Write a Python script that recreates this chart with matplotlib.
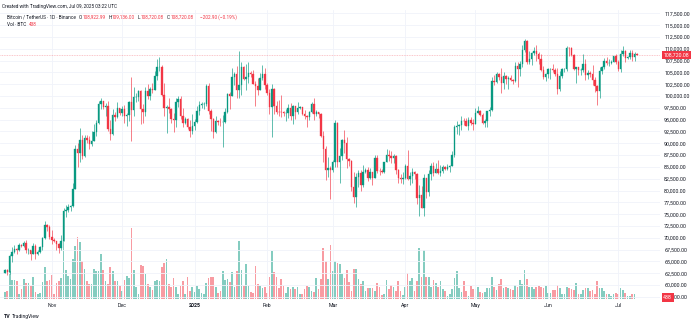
import matplotlib
matplotlib.use("Agg")
import matplotlib.pyplot as plt
import matplotlib.transforms as mtransforms
import numpy as np
import pandas as pd

plt.rcParams['font.family'] = ['Roboto', 'DejaVu Sans']

# ---------------- data (prices in thousands of USDT, volume in thousands of BTC) -------------
start_date = "2024-10-12"

close_k = [
    # Oct 12-31
    63.21, 62.85, 66.05, 67.04, 67.61, 67.42, 68.43, 68.36, 69.00, 67.37, 67.38, 66.65, 68.17, 66.63, 67.01, 67.98, 69.91, 72.72, 72.34, 70.22,
    # Nov
    69.50, 69.37, 68.78, 67.81, 69.36, 75.64, 75.90, 76.55, 76.68, 80.37, 88.70, 87.96, 90.61, 87.25, 91.07, 90.59, 89.85, 90.46, 92.31, 94.29,
    98.35, 98.89, 97.67, 97.90, 93.01, 91.97, 95.95, 95.64, 97.46, 96.41,
    # Dec
    97.19, 95.84, 96.00, 98.77, 96.96, 99.74, 99.83, 101.11, 97.34, 96.59, 101.12, 100.04, 101.46, 101.37, 104.30, 106.06, 106.13, 100.20, 97.46, 97.76,
    97.22, 95.10, 94.88, 98.67, 99.43, 95.79, 94.27, 95.16, 93.53, 92.64, 93.58,
    # Jan
    94.59, 96.88, 98.11, 98.24, 98.31, 102.08, 96.92, 95.04, 92.48, 94.70, 94.57, 94.52, 94.52, 96.53, 100.50, 99.99, 104.08, 104.56, 101.34, 102.26,
    106.14, 103.65, 103.96, 104.82, 104.71, 102.62, 102.08, 101.33, 103.73, 104.73, 102.43,
    # Feb
    100.64, 97.70, 101.41, 97.87, 96.62, 96.59, 96.53, 96.48, 96.50, 97.43, 95.78, 97.87, 96.62, 97.51, 97.57, 96.12, 95.77, 95.54, 96.64, 98.31,
    96.13, 96.58, 96.27, 91.55, 88.74, 84.35, 84.70, 84.37,
    # Mar
    86.03, 94.27, 86.12, 87.22, 90.62, 89.96, 86.74, 86.15, 80.73, 78.60, 82.86, 83.72, 81.07, 83.98, 84.34, 82.58, 84.01, 82.72, 86.85, 84.17,
    84.04, 83.83, 86.05, 87.50, 87.39, 86.90, 87.23, 84.42, 82.65, 82.39, 82.55,
    # Apr
    85.16, 82.52, 83.10, 83.84, 83.50, 78.37, 79.14, 76.27, 82.62, 79.61, 83.40, 85.28, 83.76, 84.59, 83.64, 84.03, 84.95, 84.47, 85.06, 85.17,
    87.52, 93.44, 93.70, 93.94, 94.72, 94.65, 93.75, 94.98, 94.28, 94.17,
    # May
    96.49, 96.91, 95.89, 94.32, 94.75, 96.83, 97.03, 103.24, 102.97, 104.70, 104.11, 102.81, 104.17, 103.54, 103.74, 103.48, 103.13, 106.45, 105.61, 106.78,
    109.64, 111.70, 107.29, 107.79, 109.03, 109.44, 108.94, 107.78, 105.60, 103.99, 104.59,
    # Jun
    105.64, 105.79, 105.43, 104.70, 101.51, 104.29, 105.62, 105.73, 110.26, 110.22, 108.65, 105.67, 106.07, 105.41, 105.59, 106.79, 104.55, 104.88, 104.64, 103.30,
    102.12, 100.96, 105.33, 106.08, 107.32, 106.95, 107.05, 107.30, 108.36, 107.14,
    # Jul 1-9
    105.68, 108.85, 109.58, 107.98, 108.22, 109.20, 108.26, 108.92299, 108.72008,
]

open_k = [
    62.50, 63.21, 62.85, 66.05, 67.04, 67.61, 67.42, 68.43, 68.36, 69.00, 67.37, 67.38, 66.65, 68.17, 66.63, 67.01, 67.98, 69.91, 72.72, 72.34,
    70.22, 69.50, 69.37, 68.78, 67.81, 69.36, 75.64, 75.90, 76.55, 76.68, 80.37, 88.70, 87.96, 90.61, 87.25, 91.07, 90.59, 89.85, 90.46, 92.31,
    94.29, 98.35, 98.89, 97.67, 97.90, 93.01, 91.97, 95.95, 95.64, 97.46,
    96.41, 97.19, 95.84, 96.00, 98.77, 96.96, 99.74, 99.83, 101.11, 97.34, 96.59, 101.12, 100.04, 101.46, 101.37, 104.30, 106.06, 106.13, 100.20, 97.46,
    97.76, 97.22, 95.10, 94.88, 98.67, 99.43, 95.79, 94.27, 95.16, 93.53, 92.64,
    93.58, 94.59, 96.88, 98.11, 98.24, 98.31, 102.08, 96.92, 95.04, 92.48, 94.70, 94.57, 94.52, 94.52, 96.53, 100.50, 99.99, 104.08, 104.56, 101.34,
    102.26, 106.14, 103.65, 103.96, 104.82, 104.71, 102.62, 102.08, 101.33, 103.73, 104.73,
    102.43, 100.64, 97.70, 101.41, 97.87, 96.62, 96.59, 96.53, 96.48, 96.50, 97.43, 95.78, 97.87, 96.62, 97.51, 97.57, 96.12, 95.77, 95.54, 96.64,
    98.31, 96.13, 96.58, 96.27, 91.55, 88.74, 84.35, 84.70,
    84.37, 86.03, 94.27, 86.12, 87.22, 90.62, 89.96, 86.74, 86.15, 80.73, 78.60, 82.86, 83.72, 81.07, 83.98, 84.34, 82.58, 84.01, 82.72, 86.85,
    84.17, 84.04, 83.83, 86.05, 87.50, 87.39, 86.90, 87.23, 84.42, 82.65, 82.39,
    82.55, 85.16, 82.52, 83.10, 83.84, 83.50, 78.37, 79.14, 76.27, 82.62, 79.61, 83.40, 85.28, 83.76, 84.59, 83.64, 84.03, 84.95, 84.47, 85.06,
    85.17, 87.52, 93.44, 93.70, 93.94, 94.72, 94.65, 93.75, 94.98, 94.28,
    94.17, 96.49, 96.91, 95.89, 94.32, 94.75, 96.83, 97.03, 103.24, 102.97, 104.70, 104.11, 102.81, 104.17, 103.54, 103.74, 103.48, 103.13, 106.45, 105.61,
    106.78, 109.64, 111.70, 107.29, 107.79, 109.03, 109.44, 108.94, 107.78, 105.60, 103.99,
    104.59, 105.64, 105.79, 105.43, 104.70, 101.51, 104.29, 105.62, 105.73, 110.26, 110.22, 108.65, 105.67, 106.07, 105.41, 105.59, 106.79, 104.55, 104.88, 104.64,
    103.30, 102.12, 100.96, 105.33, 106.08, 107.32, 106.95, 107.05, 107.30, 108.36,
    107.14, 105.68, 108.85, 109.58, 107.98, 108.22, 109.20, 108.26, 108.92299,
]

high_k = [
    63.48, 63.29, 66.48, 67.95, 68.42, 67.94, 68.97, 68.69, 69.40, 69.52, 67.84, 67.47, 68.85, 68.77, 67.45, 68.33, 70.27, 73.62, 72.96, 72.70,
    71.63, 70.00, 69.40, 69.00, 70.58, 76.40, 76.85, 77.20, 76.94, 81.50, 89.53, 89.96, 93.27, 91.77, 91.85, 91.78, 91.45, 92.59, 94.00, 94.90,
    98.97, 99.59, 98.99, 98.55, 98.87, 94.97, 97.21, 96.65, 98.69, 97.50,
    97.84, 98.15, 96.30, 99.00, 104.09, 101.90, 100.55, 101.35, 101.21, 98.27, 101.90, 102.54, 101.90, 102.65, 105.25, 107.79, 108.35, 106.52, 102.80, 98.14,
    99.54, 97.40, 96.42, 99.49, 99.96, 99.96, 97.54, 95.53, 95.25, 94.90, 96.16,
    95.15, 97.84, 98.98, 98.73, 98.81, 102.48, 102.72, 97.26, 95.33, 95.84, 95.00, 95.40, 95.90, 97.37, 100.68, 100.87, 105.87, 104.99, 106.32, 109.59,
    107.24, 106.39, 106.85, 107.12, 105.29, 105.49, 103.22, 103.78, 104.78, 106.46, 106.01,
    102.78, 101.46, 102.50, 101.74, 99.00, 99.18, 100.14, 96.88, 97.32, 98.35, 98.56, 98.12, 97.97, 98.83, 97.97, 97.73, 97.05, 96.00, 96.90, 98.76,
    99.50, 96.94, 96.67, 96.50, 92.53, 89.41, 87.04, 85.12,
    86.56, 95.00, 94.42, 88.91, 90.99, 92.81, 91.28, 86.85, 86.47, 83.96, 83.62, 84.36, 84.30, 85.31, 84.67, 85.05, 84.76, 84.02, 87.45, 87.45,
    84.78, 84.52, 86.13, 88.77, 88.54, 88.29, 87.79, 87.52, 84.57, 83.51, 83.94,
    85.59, 88.50, 83.93, 84.72, 84.23, 83.75, 81.24, 80.87, 83.59, 82.70, 84.25, 85.91, 86.10, 85.79, 86.50, 85.50, 85.47, 85.13, 85.60, 85.32,
    88.46, 93.82, 94.70, 94.00, 95.76, 95.30, 95.35, 95.63, 95.46, 95.18,
    97.44, 97.90, 96.94, 96.32, 95.20, 96.89, 97.73, 103.97, 104.36, 104.98, 104.94, 105.82, 104.99, 104.35, 104.17, 104.55, 103.70, 107.11, 107.11, 107.31,
    110.80, 111.98, 111.80, 109.45, 109.32, 110.42, 110.72, 109.31, 108.91, 106.31, 104.88,
    105.87, 105.98, 106.81, 105.99, 105.92, 105.33, 105.90, 106.00, 110.53, 110.40, 110.32, 108.97, 106.22, 106.20, 105.95, 108.95, 107.77, 105.55, 105.27, 106.52,
    104.00, 102.29, 106.13, 106.29, 108.14, 108.27, 107.74, 107.57, 108.50, 108.79,
    107.54, 109.79, 110.53, 109.77, 108.46, 109.74, 109.73, 109.22, 109.136,
]

low_k = [
    62.45, 62.05, 62.42, 64.80, 66.75, 66.67, 67.17, 68.02, 68.10, 66.75, 66.57, 65.26, 66.55, 65.52, 66.44, 66.80, 67.47, 69.73, 71.44, 69.69,
    68.78, 69.02, 67.48, 66.84, 67.46, 69.30, 74.42, 75.56, 75.70, 76.49, 80.22, 85.07, 86.13, 86.67, 87.11, 90.06, 88.72, 89.38, 90.38, 91.50,
    94.10, 97.15, 97.23, 95.73, 92.60, 90.79, 91.80, 94.68, 95.38, 96.00,
    95.69, 94.20, 93.58, 94.66, 90.50, 95.70, 98.80, 98.92, 94.15, 94.26, 95.68, 99.31, 99.21, 100.63, 101.23, 103.33, 105.32, 100.00, 95.67, 92.23,
    96.40, 94.20, 92.40, 93.41, 97.58, 95.14, 93.40, 94.11, 93.05, 91.32, 92.00,
    92.74, 94.39, 96.00, 97.50, 97.25, 97.91, 96.13, 92.50, 91.20, 92.20, 93.83, 93.69, 89.26, 94.31, 96.50, 97.25, 99.95, 102.28, 99.52, 99.55,
    100.12, 103.33, 101.26, 102.75, 104.11, 102.50, 97.78, 100.27, 101.28, 103.30, 101.56,
    100.28, 96.15, 91.23, 96.15, 96.25, 95.68, 95.65, 95.69, 94.75, 95.26, 94.85, 94.09, 95.21, 96.25, 97.23, 96.05, 95.21, 93.39, 95.01, 96.41,
    94.87, 95.77, 95.25, 91.35, 86.05, 82.26, 82.77, 78.26,
    83.82, 85.04, 85.08, 81.53, 86.38, 87.85, 84.67, 85.25, 80.00, 77.46, 76.61, 80.67, 79.94, 80.82, 83.63, 82.02, 82.46, 81.13, 82.67, 83.65,
    83.18, 83.63, 83.80, 85.94, 86.31, 85.86, 85.80, 83.59, 81.64, 81.57, 81.28,
    82.43, 82.32, 81.19, 81.66, 82.37, 77.15, 74.51, 76.24, 74.62, 78.46, 78.94, 82.27, 83.03, 83.68, 83.60, 83.11, 83.76, 84.30, 84.35, 83.95,
    85.14, 87.08, 91.94, 91.66, 92.86, 93.88, 93.62, 92.80, 93.97, 92.91,
    94.13, 96.35, 95.76, 94.14, 93.51, 93.38, 95.87, 96.91, 102.29, 102.82, 103.35, 100.72, 101.43, 102.61, 101.38, 103.11, 102.62, 102.98, 102.00, 104.20,
    106.11, 109.29, 106.80, 106.87, 106.60, 108.67, 107.48, 106.83, 105.32, 103.63, 103.08,
    103.81, 103.70, 105.02, 104.17, 100.37, 101.12, 103.90, 105.05, 105.32, 108.36, 108.43, 105.40, 102.66, 104.49, 104.51, 104.98, 103.37, 103.50, 103.93, 102.35,
    100.84, 98.20, 99.60, 104.62, 105.78, 106.56, 106.36, 106.81, 107.20, 106.73,
    105.27, 105.16, 108.54, 107.25, 107.76, 107.80, 107.47, 107.46, 108.72008,
]

volume_kbtc = [
    7, 8, 28, 19, 19, 18, 5, 10, 20, 16, 16, 13, 22, 7, 5, 6, 17, 32, 18, 19,
    24, 5, 16, 18, 21, 58, 29, 23, 20, 40, 53, 62, 57, 38, 30, 18, 15, 15, 30, 28, 28, 45, 29, 18, 15, 32, 28, 18, 18, 13,
    8, 19, 23, 21, 71, 29, 12, 5, 34, 33, 25, 15, 12, 9, 18, 19, 18, 32, 36, 40, 15, 12, 21, 12, 5, 13, 18, 5, 22, 8, 12,
    7, 13, 10, 6, 5, 16, 21, 22, 22, 12, 6, 8, 28, 19, 20, 17, 27, 12, 28, 58, 29, 13, 35, 13, 7, 6, 33, 15, 13, 11, 12,
    6, 22, 48, 27, 22, 11, 20, 13, 6, 12, 10, 12, 10, 12, 5, 5, 10, 13, 12, 8, 7, 21, 10, 20, 51, 38, 20, 54,
    28, 38, 36, 35, 25, 21, 29, 17, 8, 30, 30, 20, 15, 18, 8, 11, 11, 11, 8, 16, 12, 4, 5, 19, 10, 14, 12, 8, 18, 8, 4,
    12, 26, 18, 21, 8, 18, 51, 22, 49, 22, 22, 12, 19, 16, 12, 18, 10, 8, 3, 5, 10, 21, 28, 11, 7, 18, 8, 3, 13, 10,
    10, 12, 7, 6, 7, 11, 11, 22, 12, 9, 15, 20, 11, 12, 11, 10, 9, 14, 12, 19, 15, 29, 20, 12, 12, 10, 12, 13, 12, 11, 13,
    6, 6, 9, 9, 14, 11, 5, 5, 12, 11, 10, 9, 16, 5, 5, 9, 11, 11, 8, 9, 5, 18, 11, 11, 8, 5, 5, 3, 5, 6,
    5, 11, 9, 6, 3, 3, 5, 5, 0.438,
]

price_ticks_k = [57.5, 60.0, 62.5, 65.0, 67.5, 70.0, 72.5, 75.0, 77.5, 80.0, 82.5, 85.0, 87.5,
                 90.0, 92.5, 95.0, 97.5, 100.0, 102.5, 105.0, 107.5, 110.0, 112.5, 115.0, 117.5]
month_dates = ["2024-11-01", "2024-12-01", "2025-01-01", "2025-02-01", "2025-03-01",
               "2025-04-01", "2025-05-01", "2025-06-01", "2025-07-01"]
month_labels = ["Nov", "Dec", "2025", "Feb", "Mar", "Apr", "May", "Jun", "Jul"]

last_price_label = "108,720.08"
last_volume_label = "438"

# ---------------- styling ----------------
UP = "#089981"
DOWN = "#F23645"
UP_VOL = "#84CCC0"
DOWN_VOL = "#F89BA2"
TXT = "#131722"
GRID = "#F0F3FA"
FS = 3.8
FSH = 3.45

W, H = 700, 324
dates = pd.date_range(start_date, periods=len(close_k), freq="D")
idx = np.arange(len(dates))
o = np.array(open_k); h = np.array(high_k); l = np.array(low_k); c = np.array(close_k)
vol = np.array(volume_kbtc)
up = c >= o

fig = plt.figure(figsize=(W / 100, H / 100), dpi=100)
pos = [0, 25 / H, 660 / W, 289 / H]
vax = fig.add_axes(pos, zorder=0)
ax = fig.add_axes(pos, zorder=1)
ax.patch.set_visible(False)

px_per_day = 2.3407
x0 = -5 / px_per_day
x1 = (660 - 5) / px_per_day
for a in (ax, vax):
    a.set_xlim(x0, x1)
    for s in a.spines.values():
        s.set_visible(False)

# price scale: 117,500 at y=13.3px, 211.6 USDT per pixel
ax.set_ylim(117.5 - (299 - 13.3) * 0.2116, 117.5 + 3.3 * 0.2116)
vax.set_ylim(0, 289)

# grid / ticks
ax.set_yticks(price_ticks_k)
ax.set_yticklabels([f"{v * 1000:,.2f}" for v in price_ticks_k])
month_pos = [(pd.Timestamp(d) - dates[0]).days for d in month_dates]
ax.set_xticks(month_pos)
ax.set_xticklabels(month_labels)
ax.get_xticklabels()[2].set_fontweight("bold")
ax.grid(True, color=GRID, lw=0.6, zorder=0)
ax.set_axisbelow(True)
ax.yaxis.tick_right()
ax.tick_params(axis="y", length=0, pad=3, labelsize=FS, colors=TXT)
ax.tick_params(axis="x", length=0, pad=3.2, labelsize=FS, colors=TXT)
vax.set_xticks([]); vax.set_yticks([])

# volume
vax.bar(idx, vol, width=0.72, color=np.where(up, UP_VOL, DOWN_VOL), linewidth=0)

# candles
cols = np.where(up, UP, DOWN)
ax.vlines(idx, l, h, colors=cols, lw=0.45, zorder=2)
ax.bar(idx, np.abs(c - o), bottom=np.minimum(o, c), width=0.62, color=cols,
       edgecolor=cols, linewidth=0.25, zorder=3)

# last price line and labels
last = close_k[-1]
ax.axhline(last, color=DOWN, lw=0.5, ls=(0, (1.2, 1.2)), alpha=0.45, zorder=1)
tr = mtransforms.blended_transform_factory(ax.transAxes, ax.transData)
ax.text(1.005, last, last_price_label, transform=tr, ha="left", va="center", color="white",
        fontsize=FS, zorder=10, bbox=dict(boxstyle="square,pad=0.3", fc=DOWN, ec="none"))
trv = mtransforms.blended_transform_factory(ax.transAxes, vax.transData)
ax.text(1.005, 1.5, last_volume_label, transform=trv, ha="left", va="center", color="white",
        fontsize=FS, zorder=10, bbox=dict(boxstyle="square,pad=0.3", fc=DOWN, ec="none"))

# header texts
def ftext(xp, yp, s, color=TXT, size=FSH, **kw):
    return fig.text(xp / W, 1 - yp / H, s, color=color, fontsize=size, ha="left", va="center", **kw)


def chain(xp, yp, pieces):
    t = ftext(xp, yp, pieces[0][0], pieces[0][1])
    for s, col, gap in pieces[1:]:
        t = fig.text(0, 0, s, color=col, fontsize=FSH, ha="left", va="bottom",
                     transform=mtransforms.offset_copy(
                         mtransforms.BboxTransformTo(t.get_window_extent(fig.canvas.get_renderer())),
                         fig=fig, x=gap, y=0, units="points"))
        t.set_position((1, 0))
    return t


ftext(2, 6.8, "Created with TradingView.com, Jul 09, 2025 03:22 UTC")
chain(7, 17.3, [("Bitcoin / TetherUS · 1D · Binance", TXT, 0),
                ("O", TXT, 2.0), ("108,922.99", DOWN, 0.3),
                ("H", TXT, 2.0), ("109,136.00", DOWN, 0.3),
                ("L", TXT, 2.0), ("108,720.08", DOWN, 0.3),
                ("C", TXT, 2.0), ("108,720.08", DOWN, 0.3),
                ("−202.90 (−0.19%)", DOWN, 4.5)])
chain(7, 24.6, [("Vol · BTC", TXT, 0), ("438", DOWN, 1.8)])
ftext(4, 316.5, "TV", fontweight="bold", size=3.8)
ftext(11.5, 316.5, "TradingView", size=3.6)

fig.savefig("out.png", dpi=100, facecolor="white")
